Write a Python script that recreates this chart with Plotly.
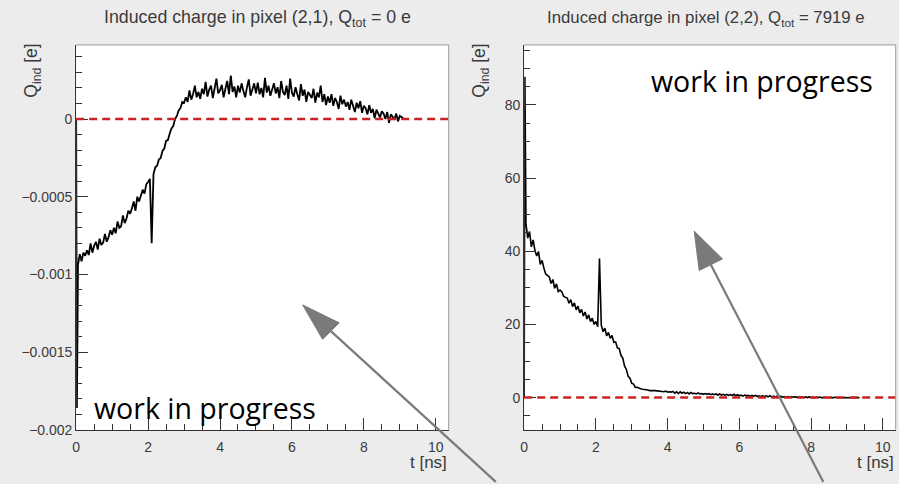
import plotly.graph_objects as go

W, H = 899, 484

# ---------------- data ----------------
t_step = 0.05  # ns, sampling step of the typed series (first value at t = 0.05)

# pixel (2,1): induced charge in units of 1e-6 e
t21_spike = [0.0, 0.02]
q21_spike_ue = [0, -1860]
q21_ue = [
    -940, -870, -915, -860, -880, -845, -875, -800, -860, -815,
    -790, -840, -770, -810, -795, -740, -790, -760, -715, -745,
    -700, -735, -660, -700, -690, -620, -670, -640, -590, -610,
    -575, -530, -590, -500, -530, -490, -455, -480, -420, -405,
    -385, -800, -355, -310, -300, -260, -250, -205, -190, -140,
    -135, -95, -60, -45, 0, 20, 55, 70, 110, 105,
    140, 110, 185, 125, 160, 215, 140, 175, 130, 195,
    160, 240, 145, 190, 215, 135, 200, 260, 165, 185,
    220, 140, 195, 245, 160, 280, 175, 210, 140, 215,
    170, 230, 180, 140, 205, 255, 150, 195, 230, 165,
    235, 160, 200, 140, 265, 170, 215, 150, 195, 230,
    165, 205, 135, 245, 175, 155, 215, 130, 260, 170,
    145, 205, 160, 120, 225, 150, 190, 110, 175, 150,
    135, 195, 105, 170, 140, 215, 110, 160, 90, 145,
    105, 160, 85, 135, 110, 65, 150, 95, 125, 80,
    110, 60, 125, 85, 45, 105, 70, 115, 40, 85,
    70, 30, 90, 40, 65, 5, 60, 35, 10, 50,
    35, 0, 45, -25, 30, 15, -5, 35, -15, 20,
    10, 5,
]

# pixel (2,2): induced charge in e
t22_spike = [0.0, 0.02]
q22_spike = [0.0, 87.7]
q22 = [
    47.5, 43.6, 45.4, 41.2, 43.1, 40.2, 38.7, 39.9, 36.4, 37.5,
    35.4, 33.8, 33.4, 33.0, 31.2, 32.3, 29.9, 31.1, 29.0, 29.4,
    28.9, 27.7, 27.4, 27.2, 25.8, 26.8, 24.9, 25.9, 24.0, 25.0,
    23.2, 24.1, 22.3, 23.4, 21.5, 22.6, 20.8, 21.7, 20.0, 20.8,
    19.4, 38.0, 19.8, 18.0, 19.0, 16.9, 17.8, 16.2, 17.0, 15.1,
    15.2, 13.6, 13.4, 11.5, 10.8, 8.6, 7.7, 5.8, 5.3, 3.9,
    3.7, 2.8, 2.8, 2.5, 2.4, 2.3, 2.3, 2.1, 2.1, 1.9,
    2.0, 1.9, 1.9, 1.8, 1.8, 1.7, 1.7, 1.6, 1.8, 1.5,
    1.6, 1.5, 1.7, 1.2, 1.6, 1.1, 1.6, 1.2, 1.5, 1.1,
    1.4, 1.0, 1.4, 1.1, 1.2, 1.0, 1.3, 1.0, 1.1, 0.9,
    1.1, 0.9, 1.1, 0.8, 1.0, 0.8, 1.0, 0.7, 1.0, 0.7,
    0.9, 0.6, 0.9, 0.6, 0.8, 0.6, 0.9, 0.5, 0.8, 0.5,
    0.7, 0.4, 0.7, 0.5, 0.6, 0.4, 0.6, 0.4, 0.6, 0.3,
    0.5, 0.3, 0.5, 0.3, 0.5, 0.2, 0.5, 0.2, 0.4, 0.2,
    0.4, 0.1, 0.4, 0.1, 0.3, 0.1, 0.3, 0.1, 0.3, 0.1,
    0.25, 0.05, 0.25, 0.0, 0.2, 0.05, 0.2, 0.0, 0.2, 0.0,
    0.15, -0.05, 0.15, 0.0, 0.15, -0.05, 0.1, 0.0, 0.1, -0.05,
    0.1, -0.05, 0.1, 0.0, 0.05, -0.05, 0.05, 0.0, 0.05, -0.05,
    0.05, -0.05, 0.05, 0.0, 0.0, 0.0, 0.0,
]

x_ticks = [0, 2, 4, 6, 8, 10]
y21_ticks = [-0.002, -0.0015, -0.001, -0.0005, 0]
y21_ticktext = ["\u22120.002", "\u22120.0015", "\u22120.001", "\u22120.0005", "0"]
y22_ticks = [0, 20, 40, 60, 80]

title21 = "Induced charge in pixel (2,1), Q<sub>tot</sub> = 0 e"
title22 = "Induced charge in pixel (2,2), Q<sub>tot</sub> = 7919 e"
ytitle = "Q<sub>ind</sub> [e]"
xtitle = "t [ns]"
wip = "work in progress"

# ---------------- build ----------------
t21 = t21_spike + [round(t_step * (i + 1), 4) for i in range(len(q21_ue))]
v21 = [v * 1e-6 for v in q21_spike_ue + q21_ue]
t22 = t22_spike + [round(t_step * (i + 1), 4) for i in range(len(q22))]
v22 = q22_spike + q22


def fx(p):
    return p / W


def fy(p):
    return 1 - p / H


FONT = "Liberation Sans, Arial, Helvetica, sans-serif"
TXT = "#3a3a3a"

fig = go.Figure()
fig.add_trace(go.Scatter(x=t21, y=v21, mode="lines", line=dict(color="black", width=1.8),
                         xaxis="x", yaxis="y", showlegend=False, hoverinfo="skip"))
fig.add_trace(go.Scatter(x=t22, y=v22, mode="lines", line=dict(color="black", width=1.6),
                         xaxis="x2", yaxis="y2", showlegend=False, hoverinfo="skip"))

common_x = dict(ticks="inside", ticklen=12, tickcolor="#333", tickwidth=1,
                showgrid=False, zeroline=False, showline=True, linecolor="#333", linewidth=1,
                tickvals=x_ticks, tickfont=dict(family=FONT, size=14, color=TXT),
                ticklabelstandoff=4,
                minor=dict(ticks="inside", ticklen=6, tick0=0, dtick=0.5, tickcolor="#333", showgrid=False),
                range=[0, 10.36], fixedrange=True)
common_y = dict(ticks="inside", ticklen=12, tickcolor="#333", tickwidth=1,
                showgrid=False, zeroline=False, showline=True, linecolor="#333", linewidth=1,
                tickfont=dict(family=FONT, size=14, color=TXT), fixedrange=True)

fig.update_layout(
    width=W, height=H, autosize=False,
    margin=dict(l=0, r=0, t=0, b=0),
    paper_bgcolor="#ececec", plot_bgcolor="white",
    xaxis=dict(domain=[fx(72.5), fx(446.7)], anchor="y", **common_x),
    yaxis=dict(domain=[fy(437), fy(45.7)], anchor="x", range=[-0.002, 0.000477],
               tickvals=y21_ticks, ticktext=y21_ticktext,
               minor=dict(ticks="inside", ticklen=6, tick0=0, dtick=0.0001, tickcolor="#333", showgrid=False),
               **common_y),
    xaxis2=dict(domain=[fx(522.5), fx(895.7)], anchor="y2", **common_x),
    yaxis2=dict(domain=[fy(437), fy(45.7)], anchor="x2", range=[-8.79, 96.4],
                tickvals=y22_ticks,
                minor=dict(ticks="inside", ticklen=6, tick0=0, dtick=5, tickcolor="#333", showgrid=False),
                **common_y),
)

shapes = []
for xa, ya in (("x", "y"), ("x2", "y2")):
    # zero reference
    shapes.append(dict(type="line", xref=f"{xa} domain", yref=ya, x0=0, x1=1, y0=0, y1=0,
                       line=dict(color="#cc2222", width=2.5, dash="8px,5px"), layer="above"))
    # top / right frame
    shapes.append(dict(type="line", xref=f"{xa} domain", yref=f"{ya} domain", x0=0, x1=1, y0=1, y1=1,
                       line=dict(color="#999", width=1), layer="above"))
    shapes.append(dict(type="line", xref=f"{xa} domain", yref=f"{ya} domain", x0=1, x1=1, y0=0, y1=1,
                       line=dict(color="#999", width=1), layer="above"))

# arrows (decoration, in page coordinates)
ARROW = "#7a7a7a"
for tip, tail, c1, c2 in (
    ((300, 310), (494, 490), (336.7, 328.3), (320, 345)),
    ((693.3, 235), (823, 490), (721.7, 263.3), (698.3, 275)),
):
    bx = (c1[0] + c2[0]) / 2
    by = (c1[1] + c2[1]) / 2
    shapes.append(dict(type="line", xref="paper", yref="paper",
                       x0=fx(bx), y0=fy(by), x1=fx(tail[0]), y1=fy(tail[1]),
                       line=dict(color=ARROW, width=2.2), layer="above"))
    path = (f"M {fx(tip[0])},{fy(tip[1])} L {fx(c1[0])},{fy(c1[1])} "
            f"L {fx(c2[0])},{fy(c2[1])} Z")
    shapes.append(dict(type="path", xref="paper", yref="paper", path=path,
                       fillcolor=ARROW, line=dict(color=ARROW, width=1), layer="above"))

fig.update_layout(shapes=shapes)

ann = []
ann.append(dict(text=title21, x=fx(255), y=fy(19), xref="paper", yref="paper",
                xanchor="center", yanchor="middle", showarrow=False,
                font=dict(family=FONT, size=17.8, color=TXT)))
ann.append(dict(text=title22, x=fx(705), y=fy(19), xref="paper", yref="paper",
                xanchor="center", yanchor="middle", showarrow=False,
                font=dict(family=FONT, size=16.8, color=TXT)))
for cx in (29, 479):
    ann.append(dict(text=ytitle, x=fx(cx), y=fy(72), xref="paper", yref="paper",
                    xanchor="center", yanchor="middle", textangle=-90, showarrow=False,
                    font=dict(family=FONT, size=17.5, color=TXT)))
for rx in (447, 896):
    ann.append(dict(text=xtitle, x=fx(rx), y=fy(470), xref="paper", yref="paper",
                    xanchor="right", yanchor="middle", showarrow=False,
                    font=dict(family=FONT, size=17, color=TXT)))
ann.append(dict(text=wip, x=fx(88), y=fy(415), xref="paper", yref="paper",
                xanchor="left", yanchor="middle", showarrow=False,
                font=dict(family="Open Sans, Noto Sans, sans-serif", size=28.5, color="black")))
ann.append(dict(text=wip, x=fx(648), y=fy(82), xref="paper", yref="paper",
                xanchor="left", yanchor="middle", showarrow=False,
                font=dict(family="Open Sans, Noto Sans, sans-serif", size=28.5, color="black")))
fig.update_layout(annotations=ann)

fig.write_html(
    "out.html",
    config={"displayModeBar": False, "responsive": False},
    post_script=("document.documentElement.style.margin='0px';"
                 "document.documentElement.style.overflow='hidden';"
                 "document.body.style.margin='0px';"
                 "document.body.style.overflow='hidden';"),
)
